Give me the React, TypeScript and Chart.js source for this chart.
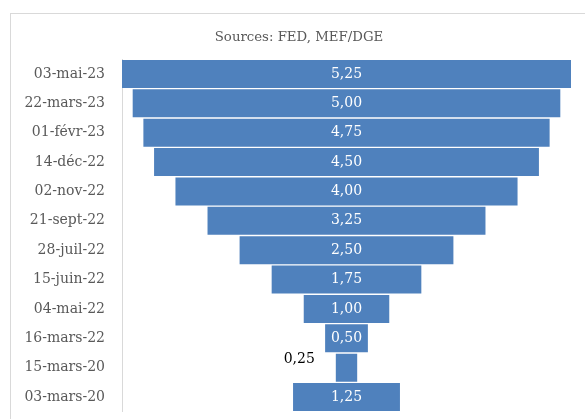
import { useEffect, useRef } from 'react';
import { Chart, registerables } from 'chart.js';

Chart.register(...registerables);

// Policy rate decisions, most recent first
const dates = [
  '03-mai-23',
  '22-mars-23',
  '01-févr-23',
  '14-déc-22',
  '02-nov-22',
  '21-sept-22',
  '28-juil-22',
  '15-juin-22',
  '04-mai-22',
  '16-mars-22',
  '15-mars-20',
  '03-mars-20',
];
const rates = [5.25, 5.0, 4.75, 4.5, 4.0, 3.25, 2.5, 1.75, 1.0, 0.5, 0.25, 1.25];
const sourceNote = 'Sources: FED, MEF/DGE';

const FONT = '"DejaVu Serif", "Liberation Serif", serif';
const BAR_BLUE = '#4F81BD';
const TEXT_GREY = '#595959';

const fmt = (v: number) => v.toFixed(2).replace('.', ',');

// Source note centred over the whole framed area
const sourceTitle = {
  id: 'sourceTitle',
  afterDraw(chart: any) {
    const ctx = chart.ctx as CanvasRenderingContext2D;
    ctx.save();
    ctx.font = `13.3px ${FONT}`;
    ctx.fillStyle = TEXT_GREY;
    ctx.textAlign = 'center';
    ctx.textBaseline = 'middle';
    ctx.fillText(sourceNote, 299, 38);
    ctx.restore();
  },
};

// Writes each rate inside its bar, or beside it when the bar is too narrow
const valueLabels = {
  id: 'valueLabels',
  afterDatasetsDraw(chart: any) {
    const meta = chart.getDatasetMeta(0);
    const ctx = chart.ctx as CanvasRenderingContext2D;
    ctx.save();
    ctx.font = `14px ${FONT}`;
    ctx.textBaseline = 'middle';
    meta.data.forEach((bar: any, i: number) => {
      const { x, y, base } = bar.getProps(['x', 'y', 'base'], true);
      const text = fmt(rates[i]);
      const left = Math.min(x, base);
      const right = Math.max(x, base);
      const tw = ctx.measureText(text).width;
      if (tw + 8 < right - left) {
        ctx.fillStyle = '#FFFFFF';
        ctx.textAlign = 'center';
        ctx.fillText(text, (left + right) / 2, y);
      } else {
        ctx.fillStyle = '#000000';
        ctx.textAlign = 'right';
        ctx.fillText(text, left - 21, y - 8);
      }
    });
    ctx.restore();
  },
};

export default function App() {
  const canvasRef = useRef<HTMLCanvasElement | null>(null);

  useEffect(() => {
    if (!canvasRef.current) return;
    const half = Math.max(...rates) / 2;
    const chart = new Chart(canvasRef.current, {
      type: 'bar',
      data: {
        labels: dates,
        datasets: [
          {
            data: rates.map((v) => [-v / 2, v / 2]) as any,
            backgroundColor: BAR_BLUE,
            borderWidth: 0,
            barPercentage: 0.955,
            categoryPercentage: 1,
          },
        ],
      },
      options: {
        indexAxis: 'y',
        responsive: false,
        animation: false,
        layout: { padding: { left: 10, right: 14, top: 59.3, bottom: 7.3 } },
        plugins: {
          legend: { display: false },
          tooltip: { enabled: false },
          title: { display: false },
        },
        scales: {
          x: {
            display: false,
            min: -half,
            max: half,
          },
          y: {
            grid: { display: false, drawTicks: false },
            border: { display: true, color: '#D9D9D9', width: 1 },
            ticks: {
              color: TEXT_GREY,
              padding: 17,
              font: { family: FONT, size: 14 },
            },
            afterFit(scale: any) {
              scale.width = 112;
              scale.paddingTop = 0;
              scale.paddingBottom = 0;
            },
          },
        },
      },
      plugins: [valueLabels, sourceTitle],
    });
    return () => chart.destroy();
  }, []);

  return (
    <div
      style={{
        position: 'fixed',
        left: 0,
        top: 0,
        width: 585,
        height: 419,
        overflow: 'hidden',
        background: '#FFFFFF',
      }}
    >
      <div
        style={{
          position: 'absolute',
          left: 10,
          top: 13,
          width: 620,
          height: 460,
          borderLeft: '1px solid #D9D9D9',
          borderTop: '1px solid #D9D9D9',
        }}
      />
      <canvas
        ref={canvasRef}
        width={585}
        height={419}
        style={{ position: 'absolute', left: 0, top: 0, width: 585, height: 419 }}
      />
    </div>
  );
}
